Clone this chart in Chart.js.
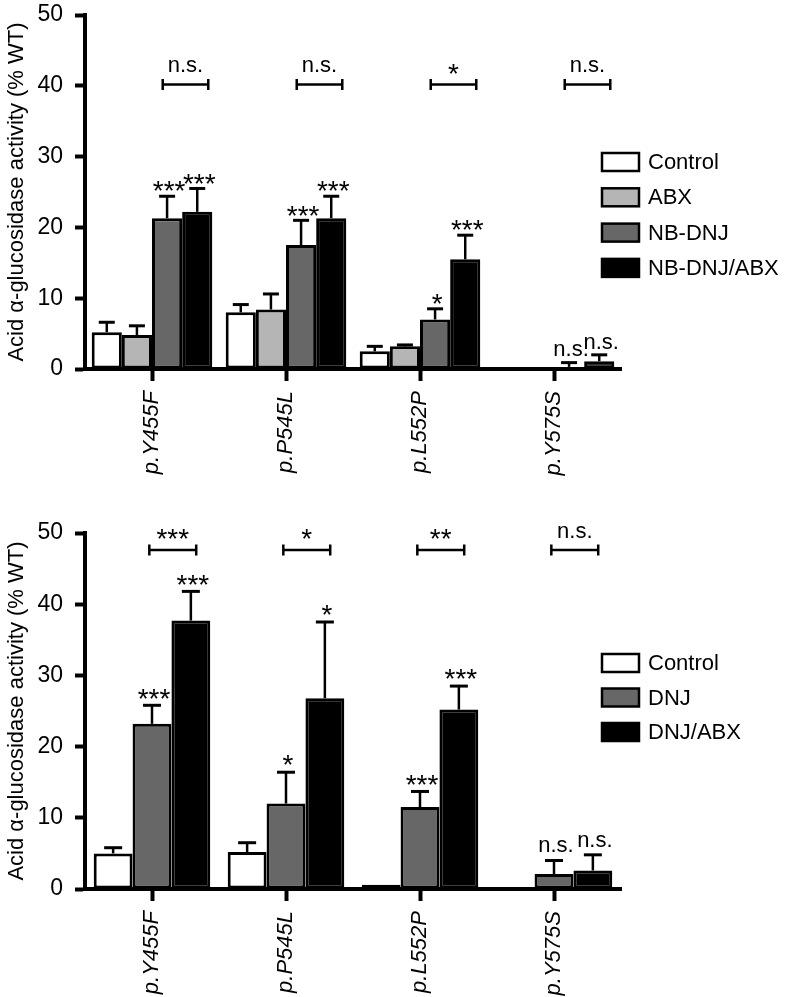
<!DOCTYPE html>
<html>
<head>
<meta charset="utf-8">
<script src="https://cdn.jsdelivr.net/npm/chart.js@4/dist/chart.umd.min.js"></script>
<style>
  html, body { margin: 0; padding: 0; background: #fff; }
  #wrap { position: relative; width: 786px; height: 997px; }
  canvas { position: absolute; left: 0; }
  #topChart { top: 0; }
  #bottomChart { top: 480px; }
</style>
</head>
<body>
<div id="wrap">
  <canvas id="topChart" width="786" height="480"></canvas>
  <canvas id="bottomChart" width="786" height="517"></canvas>
</div>
<script>
// Categories (shared by both panels)
const mutations = ["p.Y455F", "p.P545L", "p.L552P", "p.Y575S"];

// Top panel: means and SD (upper whisker only)
const topSeries = ["Control", "ABX", "NB-DNJ", "NB-DNJ/ABX"];
const topControl = [5.2, 8.0, 2.5, 0.2];
const topControlSd = [1.4, 1.1, 0.7, 0];
const topAbx = [4.8, 8.4, 3.2, 0.2];
const topAbxSd = [1.3, 2.2, 0.2, 0];
const topNbdnj = [21.3, 17.5, 7.0, 0.3];
const topNbdnjSd = [3.1, 3.5, 1.5, 0.6];
const topNbdnjAbx = [22.2, 21.3, 15.5, 1.1];
const topNbdnjAbxSd = [3.3, 3.1, 3.4, 0.9];
const topNbdnjStars = ["***", "***", "*", "n.s."];
const topNbdnjAbxStars = ["***", "***", "***", "n.s."];
const topBrackets = ["n.s.", "n.s.", "*", "n.s."];

// Bottom panel
const botSeries = ["Control", "DNJ", "DNJ/ABX"];
const botControl = [5.0, 5.2, 0.6, 0];
const botControlSd = [0.8, 1.3, 0, 0];
const botDnj = [23.2, 12.0, 11.5, 2.1];
const botDnjSd = [2.6, 4.4, 2.2, 1.9];
const botDnjAbx = [37.7, 26.8, 25.2, 2.6];
const botDnjAbxSd = [4.1, 10.7, 3.3, 2.2];
const botDnjStars = ["***", "*", "***", "n.s."];
const botDnjAbxStars = ["***", "*", "***", "n.s."];
const botBrackets = ["***", "*", "**", "n.s."];

const FONT = "'Liberation Sans', Arial, Helvetica, sans-serif";
const WHITE = "#ffffff", LIGHT = "#b5b5b5", DARK = "#676767", BLACK = "#000000";

// draw a significance mark so that its visual centre sits at cy
function drawMark(ctx, text, cx, cy) {
    ctx.save();
    ctx.fillStyle = "#000";
    ctx.textAlign = "center";
    ctx.textBaseline = "alphabetic";
    if (text.includes("*")) {
        ctx.font = "28px " + FONT;
        ctx.fillText(text, cx, cy + 0.58 * 28);
    } else {
        ctx.font = "22px " + FONT;
        ctx.fillText(text, cx, cy + 0.26 * 22);
    }
    ctx.restore();
}

const errorBars = {
    id: "errorBars",
    afterDatasetsDraw(chart, args, opts) {
        const ctx = chart.ctx, y = chart.scales.y;
        chart.data.datasets.forEach((ds, i) => {
            chart.getDatasetMeta(i).data.forEach((bar, j) => {
                const sd = ds.sd[j];
                const yTop = y.getPixelForValue(ds.data[j] + sd);
                if (sd) {
                    const y0 = y.getPixelForValue(ds.data[j]);
                    ctx.save();
                    ctx.strokeStyle = "#000";
                    ctx.lineWidth = opts.stem;
                    ctx.beginPath(); ctx.moveTo(bar.x, y0); ctx.lineTo(bar.x, yTop); ctx.stroke();
                    ctx.lineWidth = opts.cap;
                    ctx.beginPath(); ctx.moveTo(bar.x - opts.capHalf, yTop); ctx.lineTo(bar.x + opts.capHalf, yTop); ctx.stroke();
                    ctx.restore();
                }
                if (ds.stars && ds.stars[j]) {
                    drawMark(ctx, ds.stars[j], bar.x + 2, yTop - opts.markGap);
                }
            });
        });
    }
};

const brackets = {
    id: "brackets",
    afterDraw(chart, args, opts) {
        const ctx = chart.ctx, x = chart.scales.x, y = chart.scales.y;
        const w = x.width / chart.data.labels.length;
        const yy = y.getPixelForValue(opts.value);
        opts.labels.forEach((txt, j) => {
            const cx = x.getPixelForValue(j);
            const x0 = cx + opts.from * w, x1 = cx + opts.to * w;
            ctx.save();
            ctx.strokeStyle = "#000";
            ctx.lineWidth = 2.5;
            ctx.beginPath();
            ctx.moveTo(x0, yy); ctx.lineTo(x1, yy);
            ctx.moveTo(x0, yy - 5.5); ctx.lineTo(x0, yy + 5.5);
            ctx.moveTo(x1, yy - 5.5); ctx.lineTo(x1, yy + 5.5);
            ctx.stroke();
            ctx.restore();
            drawMark(ctx, txt, (x0 + x1) / 2, yy - opts.gap);
        });
    }
};

const boxLegend = {
    id: "boxLegend",
    afterDraw(chart, args, opts) {
        const ctx = chart.ctx;
        chart.data.datasets.forEach((ds, i) => {
            const cy = opts.top + i * opts.step;
            ctx.save();
            ctx.fillStyle = ds.backgroundColor;
            ctx.fillRect(opts.left, cy - 9, 37, 18);
            ctx.strokeStyle = "#000";
            ctx.lineWidth = 2.5;
            ctx.strokeRect(opts.left, cy - 9, 37, 18);
            ctx.fillStyle = "#000";
            ctx.font = "22px " + FONT;
            ctx.textBaseline = "middle";
            ctx.fillText(ds.label, opts.left + 46, cy + 1);
            ctx.restore();
        });
    }
};

function makePanel(id, datasets, cfg) {
    return new Chart(document.getElementById(id), {
        type: "bar",
        data: { labels: mutations, datasets: datasets },
        plugins: [errorBars, brackets, boxLegend],
        options: {
            responsive: false,
            animation: false,
            layout: { padding: { top: cfg.padTop, right: 165, left: 0, bottom: 0 } },
            categoryPercentage: cfg.catPct,
            barPercentage: 1,
            plugins: {
                legend: { display: false },
                tooltip: { enabled: false },
                errorBars: { stem: 2.5, cap: 3, capHalf: cfg.capHalf, markGap: cfg.markGap },
                brackets: { labels: cfg.brackets, value: cfg.bracketValue, from: cfg.from, to: cfg.to, gap: 18 },
                boxLegend: { left: 602, top: cfg.legendTop, step: cfg.legendStep }
            },
            scales: {
                x: {
                    z: 1,
                    grid: { display: true, drawOnChartArea: false, offset: false, tickLength: 12, tickWidth: 4, tickColor: "#000" },
                    border: { display: true, width: 4, color: "#000" },
                    ticks: { color: "#000", font: { family: FONT, size: 22, style: "italic" }, minRotation: 90, maxRotation: 90, padding: 10 },
                    afterFit: (s) => { s.height = cfg.xHeight; s.paddingLeft = 0; s.paddingRight = 0; }
                },
                y: {
                    min: 0, max: 50,
                    ticks: { stepSize: 10, color: "#000", font: { family: FONT, size: 23 }, padding: 12 },
                    grid: { display: true, drawOnChartArea: false, tickLength: 10, tickWidth: 4, tickColor: "#000" },
                    border: { display: true, width: 4, color: "#000" },
                    title: { display: true, text: "Acid \u03b1-glucosidase activity (% WT)", color: "#000", font: { family: FONT, size: 22 }, padding: { top: 4, bottom: 0 } },
                    afterFit: (s) => { s.width = 85; s.paddingTop = 0; s.paddingBottom = 0; }
                }
            }
        }
    });
}

function bars(label, data, sd, fill, stars) {
    return { label: label, data: data, sd: sd, stars: stars, backgroundColor: fill, borderColor: "#000", borderWidth: 3, borderSkipped: false };
}

makePanel("topChart", [
    bars(topSeries[0], topControl, topControlSd, WHITE, null),
    bars(topSeries[1], topAbx, topAbxSd, LIGHT, null),
    bars(topSeries[2], topNbdnj, topNbdnjSd, DARK, topNbdnjStars),
    bars(topSeries[3], topNbdnjAbx, topNbdnjAbxSd, BLACK, topNbdnjAbxStars)
], { padTop: 15, xHeight: 111, catPct: 0.9, capHalf: 8, markGap: 12, brackets: topBrackets, bracketValue: 40.2, from: 0.08, to: 0.42, legendTop: 162, legendStep: 35.3 });

makePanel("bottomChart", [
    bars(botSeries[0], botControl, botControlSd, WHITE, null),
    bars(botSeries[1], botDnj, botDnjSd, DARK, botDnjStars),
    bars(botSeries[2], botDnjAbx, botDnjAbxSd, BLACK, botDnjAbxStars)
], { padTop: 53, xHeight: 108, catPct: 0.87, capHalf: 9, markGap: 14, brackets: botBrackets, bracketValue: 47.6, from: -0.02, to: 0.33, legendTop: 183, legendStep: 34.5 });
</script>
</body>
</html>
